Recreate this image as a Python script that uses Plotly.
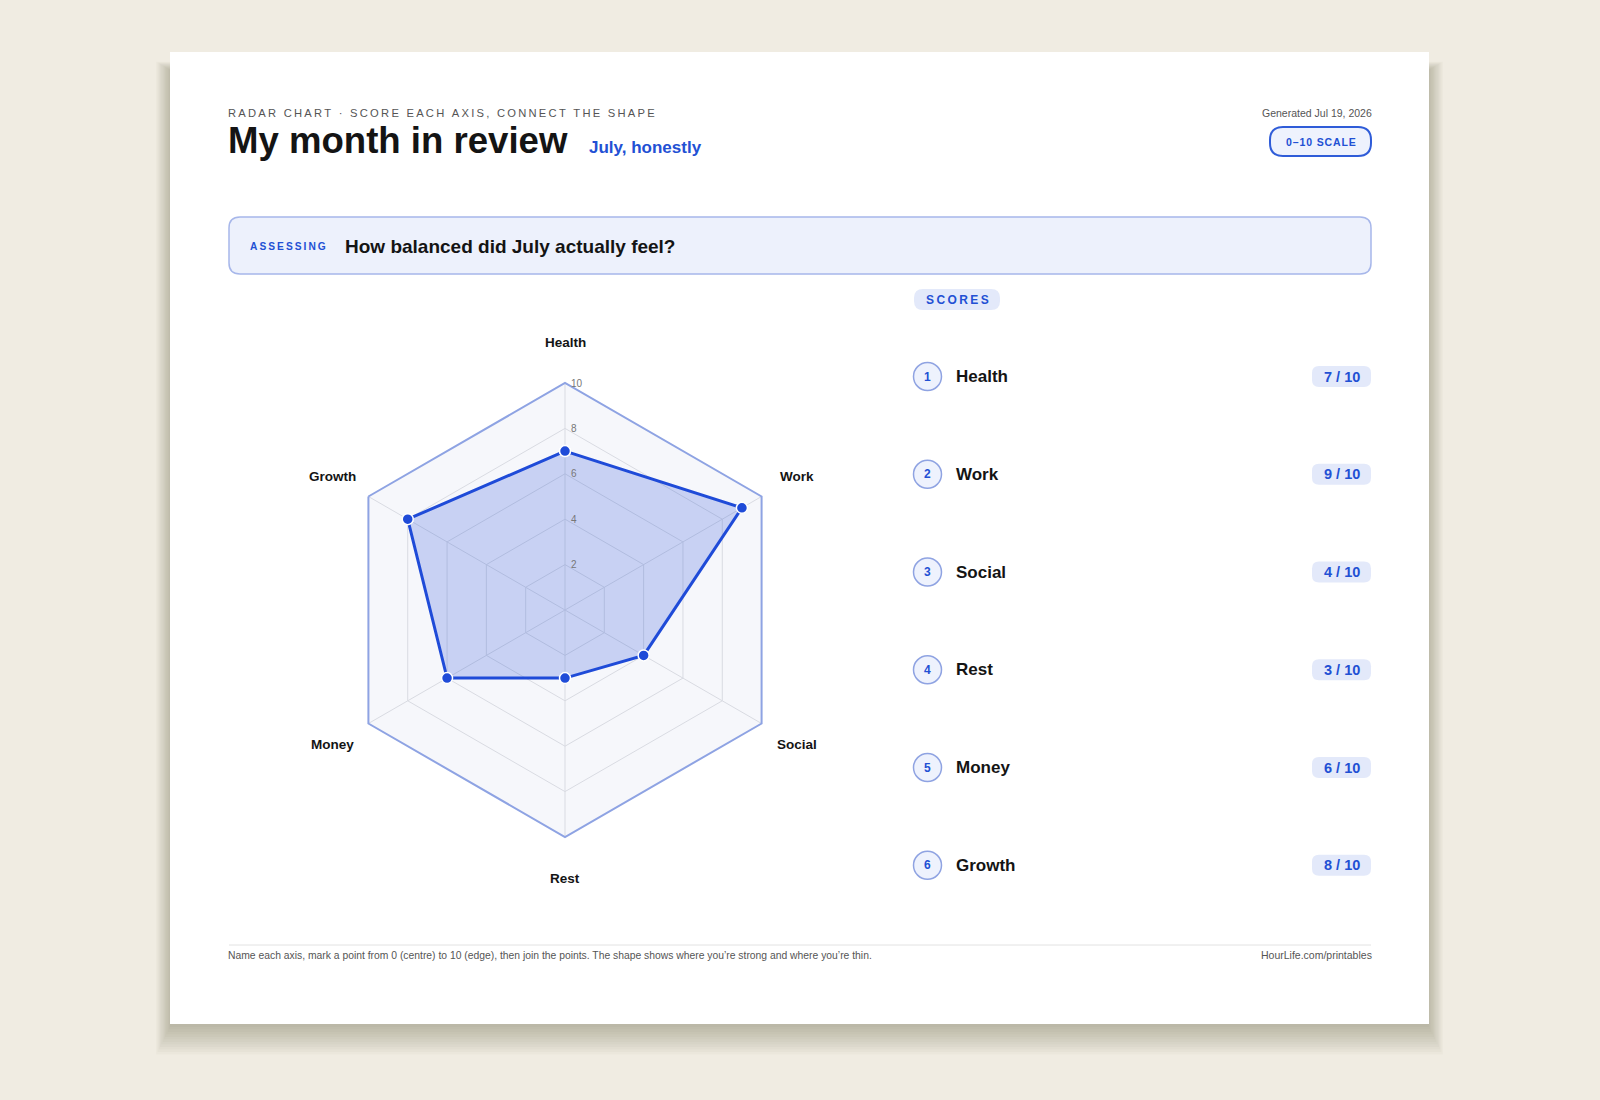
import math
import plotly.graph_objects as go

# ---------------- data ----------------
categories = ["Health", "Work", "Social", "Rest", "Money", "Growth"]
scores = [7, 9, 4, 3, 6, 8]
max_score = 10
radial_ticks = [2, 4, 6, 8, 10]

eyebrow = "RADAR CHART · SCORE EACH AXIS, CONNECT THE SHAPE"
title = "My month in review"
subtitle = "July, honestly"
generated = "Generated Jul 19, 2026"
scale_label = "0–10 SCALE"
assess_label = "ASSESSING"
question = "How balanced did July actually feel?"
scores_label = "SCORES"
footnote = ("Name each axis, mark a point from 0 (centre) to 10 (edge), then join the points. "
            "The shape shows where you’re strong and where you’re thin.")
source = "HourLife.com/printables"

# ---------------- style ----------------
W, H = 1600, 1100
FONT = "Liberation Sans, Arial, Helvetica, sans-serif"
BLUE = "#2250d4"
LINE_BLUE = "#1f4bd8"
BG = "#f0ece2"
INK = "#141414"


def spaced(s, sep="\u2009"):
    return sep.join(list(s))


def rrect(x0, y0, x1, y1, r):
    return (f"M{x0+r},{y0} L{x1-r},{y0} Q{x1},{y0} {x1},{y0+r} L{x1},{y1-r} "
            f"Q{x1},{y1} {x1-r},{y1} L{x0+r},{y1} Q{x0},{y1} {x0},{y1-r} "
            f"L{x0},{y0+r} Q{x0},{y0} {x0+r},{y0} Z")


fig = go.Figure()

# radar shape
fig.add_trace(go.Scatterpolar(
    r=scores + [scores[0]],
    theta=categories + [categories[0]],
    mode="lines+markers",
    fill="toself",
    fillcolor="rgba(37,79,214,0.22)",
    line=dict(color=LINE_BLUE, width=3),
    marker=dict(size=11, color=LINE_BLUE, line=dict(color="white", width=1.5)),
    hoverinfo="skip",
    showlegend=False,
))
# centre dot
fig.add_trace(go.Scatterpolar(
    r=[0], theta=[categories[0]], mode="markers",
    marker=dict(size=8, color="#4d4d4d"),
    hoverinfo="skip", showlegend=False,
))

# polar placement: centre (565,610), radius 227 px
cx, cy, R = 565, 610, 227
label_r = 268

shapes = []
# card shadow (soft, offset downward)
for k in range(12):
    pad = 2.5 * k
    shapes.append(dict(type="rect", xref="x", yref="y", layer="below",
                       x0=170 - pad * 0.5, x1=1429 + pad * 0.5,
                       y0=52 + 18 - pad * 0.3, y1=1024 + 3 + pad,
                       line=dict(width=0), fillcolor="rgba(70,62,40,0.028)"))
# card
shapes.append(dict(type="rect", xref="x", yref="y", layer="below",
                   x0=170, x1=1429, y0=52, y1=1024,
                   line=dict(width=0), fillcolor="white"))
# scale pill
shapes.append(dict(type="path", xref="x", yref="y", layer="below",
                   path=rrect(1270, 127, 1371, 156, 13),
                   line=dict(color="#2f5cd8", width=2), fillcolor="#eef2fd"))
# assessing box
shapes.append(dict(type="path", xref="x", yref="y", layer="below",
                   path=rrect(229, 217, 1371, 274, 11),
                   line=dict(color="#a7b7ea", width=1.5), fillcolor="#edf1fc"))
# scores pill
shapes.append(dict(type="path", xref="x", yref="y", layer="below",
                   path=rrect(914, 289, 1000, 310, 9),
                   line=dict(width=0), fillcolor="#e3e9fa"))
# footer rule
shapes.append(dict(type="line", xref="x", yref="y", layer="below",
                   x0=229, x1=1371, y0=945, y1=945,
                   line=dict(color="#e2e2e2", width=1)))

annotations = []


def ann(x, y, text, size, color, bold=False, xanchor="left", family=FONT):
    annotations.append(dict(
        x=x, y=y, xref="x", yref="y", text=f"<b>{text}</b>" if bold else text,
        showarrow=False, xanchor=xanchor, yanchor="middle",
        font=dict(size=size, color=color, family=family)))


ann(226, 113, spaced(eyebrow), 11.2, "#555555")
ann(226, 140, title, 36.6, INK, bold=True)
ann(587, 147, subtitle, 17, BLUE, bold=True)
ann(1374, 113, generated, 10.5, "#555555", xanchor="right")
ann(1320.5, 141.5, spaced(scale_label, "\u200a"), 10.5, BLUE, bold=True, xanchor="center")
ann(248, 246, spaced(assess_label), 10.2, BLUE, bold=True)
ann(343, 246, question, 19, INK, bold=True)
ann(957, 299.5, spaced(scores_label), 12, BLUE, bold=True, xanchor="center")
ann(226, 955, footnote, 10.35, "#555555")
ann(1374, 955, source, 10.5, "#555555", xanchor="right")

# axis labels around the radar, placed just beyond the outer ring
n = len(categories)
for i, name in enumerate(categories):
    a = 2 * math.pi * i / n
    ann(cx + label_r * math.sin(a), cy - label_r * math.cos(a), name, 13.5, INK,
        bold=True, xanchor="center")

# radial scale labels along the first (vertical) spoke
for v in radial_ticks:
    ann(cx + 4, cy - R * v / max_score, str(v), 10, "#777777")

# score list
row0, step = 376.5, 97.75
for i, (name, val) in enumerate(zip(categories, scores)):
    y = row0 + i * step
    shapes.append(dict(type="circle", xref="x", yref="y", layer="below",
                       x0=927.5 - 14, x1=927.5 + 14, y0=y - 14, y1=y + 14,
                       line=dict(color="#8fa3e2", width=1.5), fillcolor="#eef2fd"))
    ann(927.5, y, str(i + 1), 12, BLUE, bold=True, xanchor="center")
    ann(954, y, name, 17, INK, bold=True)
    shapes.append(dict(type="path", xref="x", yref="y", layer="below",
                       path=rrect(1312, y - 10.5, 1371, y + 10.5, 7),
                       line=dict(width=0), fillcolor="#e3e9fa"))
    ann(1341.5, y, f"{val} / {max_score}", 14.5, BLUE, bold=True, xanchor="center")

fig.update_layout(
    width=W, height=H,
    margin=dict(l=0, r=0, t=0, b=0),
    paper_bgcolor=BG,
    plot_bgcolor="rgba(0,0,0,0)",
    showlegend=False,
    font=dict(family=FONT),
    xaxis=dict(range=[0, W], visible=False, domain=[0, 1], fixedrange=True),
    yaxis=dict(range=[H, 0], visible=False, domain=[0, 1], fixedrange=True),
    polar=dict(
        domain=dict(x=[(cx - R) / W, (cx + R) / W], y=[(H - cy - R) / H, (H - cy + R) / H]),
        bgcolor="#f6f7fb",
        gridshape="linear",
        radialaxis=dict(
            range=[0, max_score], tickvals=radial_ticks, angle=90,
            showline=False, gridcolor="#d9dbe2", gridwidth=1, ticks="",
            showticklabels=False,
        ),
        angularaxis=dict(
            rotation=90, direction="clockwise",
            showline=True, linecolor="#8ea3e3", linewidth=2,
            gridcolor="#d9dbe2", gridwidth=1,
            showticklabels=False, ticks="",
        ),
    ),
    shapes=shapes,
    annotations=annotations,
)

fig.write_html("out.html")
